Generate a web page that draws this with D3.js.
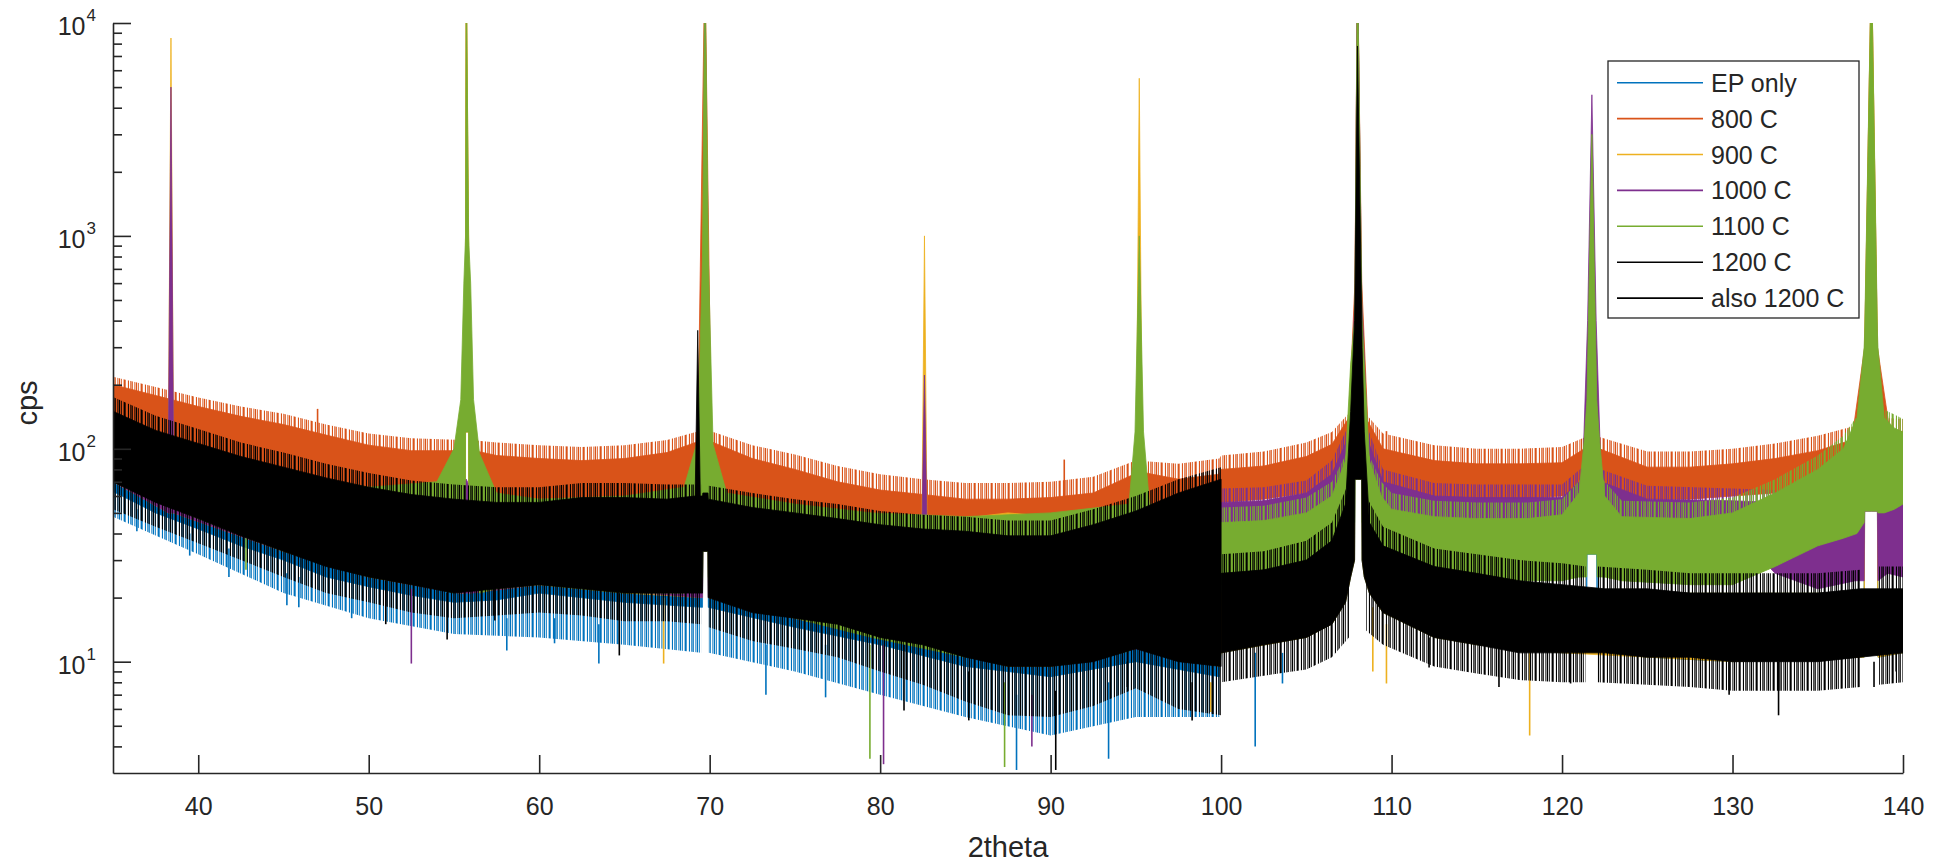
<!DOCTYPE html>
<html>
<head>
<meta charset="utf-8">
<script src="https://cdn.jsdelivr.net/npm/d3@7"></script>
<style>
  body { margin: 0; background: #fff; }
  svg { display: block; }
  text { font-family: "Liberation Sans", Arial, Helvetica, sans-serif; fill: #262626; }
</style>
</head>
<body>
<svg id="chart" width="1937" height="862"></svg>
<script>
// ---- axis settings ----
const xDomain = [35, 140];
const yDomain = [3, 1e4];
const xTicks = [40, 50, 60, 70, 80, 90, 100, 110, 120, 130, 140];
const yMajorTicks = [10, 100, 1000, 10000];
const yExponents = ["1", "2", "3", "4"];
const yMinorTicks = [4, 5, 6, 7, 8, 9, 20, 30, 40, 50, 60, 70, 80, 90,
  200, 300, 400, 500, 600, 700, 800, 900, 2000, 3000, 4000, 5000, 6000, 7000, 8000, 9000];

const seriesNames = ["EP only", "800 C", "900 C", "1000 C", "1100 C", "1200 C", "also 1200 C"];
const seriesColors = ["#0072BD", "#D95319", "#EDB120", "#7E2F8E", "#77AC30", "#000000", "#000000"];

// ---- dense part of each scan: [2theta, lower edge, upper edge / peak top] ----
const epOnly = [
  [35,63,120],[37.5,50,105],[40,42,95],[42.5,35,82],[45,30,72],[47.5,25,64],[50,22.5,60],[52.5,20.5,58],
  [55,19,56],[57.5,19.5,55],[60,21,55],[65,19,56],[69.58,18,55],[69.6,33,56],[69.9,33,56],[69.92,18,55],
  [75,14.5,48],[80,12,42],[85,9.5,40],[90,8.5,42],[95,10,46],[99.9,8.5,50],
  [100,11,21],[105,13,25],[106.5,15,30],[107.3,19,45],[107.6,25,100],[107.83,30,200],[107.85,72,300],
  [108,72,20000],[108.25,72,300],[108.27,30,200],[108.4,25,100],[108.7,21,40],[109.5,17,30],
  [112.5,13,22],[115,12,21],[120,11,21],[121.44,11,21],[121.46,32,60],[121.75,32,250],[122.04,32,60],[122.06,11,21],
  [125,10.5,21],[130,10,21],[137.72,10.5,21],[137.75,51,80],[138.15,51,500],[138.5,51,80],[138.53,10.5,21],[140,11,21]
];
const c800 = [
  [35,100,200],[37.5,90,178],[40,82,158],[42.5,75,142],[45,68,130],[47.5,62,116],[50,57,104],[52.5,54,98],
  [55.3,52,98],[55.55,60,250],[55.66,60,600],[55.68,120,650],[55.72,120,20000],[55.86,120,650],[55.88,60,600],[56.0,60,250],[56.2,52,98],
  [57.5,51,93],[60,50,90],[62.5,49,88],[65,49,90],[67.5,50,96],[69.3,52,108],[69.72,52,20000],[70.1,52,108],
  [72.5,47,90],[75,44,80],[77.5,40,70],[80,38,64],[82.5,36,61],[85,35,58],[87.5,35,58],[90,36,59],[92.5,38,62],
  [95.2,44,78],[97.5,42,72],[99.9,48,76],
  [100,56,80],[102.5,58,83],[105,62,92],[106.5,68,105],[107.5,80,140],[107.85,80,600],[108,80,20000],[108.25,80,600],
  [108.6,80,135],[109.5,65,100],[112.5,60,88],[115,58,85],[117.5,58,85],[120,60,86],
  [121.3,65,100],[121.75,65,1000],[122.2,65,100],[125,58,82],[127.5,58,82],[130,60,85],[132.5,62,90],
  [135,65,98],[137,70,110],[137.75,70,300],[138.15,70,20000],[138.5,70,300],[139.2,70,125],[140,70,120]
];
const c900 = [
  [35,70,120],[38.25,50,108],[38.4,50,8500],[38.55,50,108],[45,33,72],[50,25,62],[55.3,21,60],
  [55.66,21,60],[55.68,120,1000],[55.72,120,20000],[55.86,120,1000],[55.88,21,60],
  [60,23,58],[65,21,58],[69.58,20,58],[69.6,33,800],[69.72,33,20000],[69.9,33,800],[69.92,20,56],
  [75,16,50],[80,13,45],[82.45,12,45],[82.6,12,1000],[82.75,12,45],[87.5,9.5,50],[90,9.5,48],
  [95.0,11.5,50],[95.2,20,5500],[95.4,11.5,50],[99.9,9.5,45],
  [100,11,21],[105,13,25],[106.5,15,30],[107.3,19,45],[107.6,25,100],[107.83,30,200],[107.85,72,400],
  [108,72,20000],[108.25,72,400],[108.27,30,200],[108.4,25,100],[108.7,21,40],[109.5,17,30],
  [112.5,13,22],[115,12,21],[120,11,21],[125,10.5,21],[130,10,21],
  [137.72,10.5,21],[137.75,51,300],[138.15,51,20000],[138.5,51,300],[138.53,10.5,21],[140,11,21]
];
const c1000 = [
  [35,70,120],[38.25,50,108],[38.4,50,5000],[38.55,50,108],[45,33,75],[50,25,62],[52.5,23,60],
  [55.3,21,64],[55.72,21,72],[56.1,21,62],[60,23,56],
  [69.45,20,60],[69.58,20,300],[69.6,33,400],[69.72,33,20000],[69.9,33,400],[69.92,20,300],[70.05,20,58],
  [75,16,50],[80,13,43],[82.45,12,42],[82.6,30,222],[82.75,12,42],[90,9.5,42],[95,11.5,48],[99.9,9.5,55],
  [100,43,56],[102.5,44,57],[105,46,62],[106.5,50,76],[107.5,60,115],[107.85,72,500],[108,72,20000],[108.25,72,500],
  [108.6,60,110],[109.5,48,70],[112.5,44,60],[115,44,59],[120,44,59],
  [121.2,45,72],[121.5,45,400],[121.75,45,4600],[122.0,45,400],[122.3,45,70],
  [125,43,58],[130,42,57],[132.5,26,56],[135,22,56],[137.2,24,62],
  [137.72,24,90],[137.75,51,250],[138.15,51,5900],[138.5,51,250],[138.53,24,90],[139.1,26,60],[140,25,56]
];
const c1100 = [
  [35,70,125],[40,47,100],[45,33,78],[50,25,66],[54,22,70],[55.0,21,100],[55.4,30,170],[55.58,40,600],
  [55.66,40,900],[55.68,120,1000],[55.72,120,20000],[55.86,120,1000],[55.88,40,900],[55.98,40,600],[56.15,30,170],[56.5,21,95],
  [57.5,22,62],[60,23,58],[65,21,60],[68.5,21,66],[69.3,22,110],[69.58,25,800],[69.6,33,1200],[69.72,33,20000],
  [69.9,33,1200],[69.92,25,800],[70.2,20,105],[71,19,62],
  [75,16,55],[79.5,13,50],[85,10.5,48],[90,9.5,50],[94.6,11.2,55],[94.95,20,120],[95.2,20,1000],[95.45,20,120],[95.8,11.5,55],[99.9,9.5,52],
  [100,23,45],[102.5,24,46],[105,26,50],[106.5,30,60],[107.3,40,88],[107.6,45,250],[107.83,45,400],[107.85,72,500],
  [108,72,20000],[108.25,72,500],[108.27,45,400],[108.4,45,250],[108.7,40,88],[109.4,30,60],[110,27,52],
  [112.5,25,48],[115,24,47],[118,24,47],[120,24,49],[121.0,25,62],[121.3,25,110],[121.44,25,160],[121.46,32,170],
  [121.75,32,3000],[122.04,32,170],[122.06,25,160],[122.2,25,110],[122.5,25,60],[123.5,24,48],
  [127.5,23,47],[130,23,50],[132.5,28,62],[135,35,80],[136.5,38,100],[137.3,40,140],[137.72,45,300],[137.75,51,350],
  [138.15,51,20000],[138.5,51,350],[138.53,50,300],[138.9,50,140],[139.5,52,125],[140,55,120]
];
const c1200 = [
  [35,70,150],[37.5,56,122],[40,47,106],[42.5,39,92],[45,33,82],[47.5,28,73],[50,25,66],[52.5,23,61],
  [55,21,58],[57.5,22,56],[60,23,56],[62.5,22,59],[65,21,59],[67.5,21,58],
  [69.15,21,60],[69.3,21,360],[69.45,21,60],[69.58,21,60],[69.6,33,62],[69.9,33,62],[69.92,20,58],
  [72.5,17,53],[75,16,50],[77.5,15,47],[80,13,44],[82.5,12,42],[85,10.5,41],[87.5,9.5,39],[90,9.5,39],
  [92.5,10,44],[95,11.5,51],[97.5,10,62],[100,9.5,72]
];
const also1200 = [
  [100,11,26],[102.5,12,27],[105,13,30],[106.5,15,37],[107.3,19,55],[107.6,25,150],[107.83,30,400],[107.85,72,500],
  [108,72,7800],[108.25,72,400],[108.27,30,300],[108.4,25,120],[108.7,21,45],[109.5,17,35],
  [112.5,13,28],[115,12,26],[117.5,11,24],[120,11,23],[122.5,11,22],[125,10.5,22],[127.5,10.5,21],
  [130,10,21],[132.5,10,21],[135,10,21],[137.5,10.5,22],[140,11,22]
];

// ---- sparse noise envelope around the dense part: [2theta, lowest, highest]; null = no data drawn ----
const epFringe = [
  [35,48,120],[40,32,95],[45,21,72],[50,16,60],[55,13.5,56],[60,13,55],[65,12,56],[69.5,11,55],null,
  [69.95,11,55],[75,9,48],[80,7,42],[85,5.5,40],[90,4.5,42],[95,5.5,46],[99.9,5.5,50]
];
const c800Fringe = [
  [35,100,218],[37.5,90,195],[40,82,174],[42.5,75,158],[45,68,146],[47.5,62,130],[50,57,118],[52.5,54,112],
  [55.5,52,110],null,[55.95,52,110],[57.5,51,107],[60,50,104],[62.5,49,102],[65,49,104],[67.5,50,110],[69.5,52,122],null,
  [69.95,52,122],[72.5,47,104],[75,44,94],[77.5,40,83],[80,38,76],[82.5,36,72],[85,35,69],[87.5,35,69],[90,36,70],
  [92.5,38,74],[95,44,88],[97.5,42,85],[99.9,48,90],[100,56,93],[102.5,58,97],[105,62,107],[106.5,68,120],[107.6,80,150],null,
  [108.35,80,150],[109.5,65,118],[112.5,60,104],[115,58,100],[117.5,58,100],[120,60,102],[121.55,65,115],null,
  [121.95,65,115],[125,58,97],[127.5,58,97],[130,60,100],[132.5,62,106],[135,65,115],[137.5,70,130],null,
  [138.7,70,140],[140,70,138]
];
const c900Fringe = [];
const c1000Fringe = [
  [100,43,65],[102.5,44,66],[105,46,71],[106.5,50,88],[107.5,60,130],null,[108.6,60,125],[109.5,48,80],
  [112.5,44,69],[115,44,68],[120,44,68],[121.2,45,82],null,[122.3,45,80],[125,43,67],[130,42,65],
  [132.5,26,64],[135,22,64],[137.2,24,70],null,[139.1,26,68],[140,25,64]
];
const c1100Fringe = [
  [100,23,53],[102.5,24,54],[105,26,59],[106.5,30,70],[107.5,40,100],null,[108.5,40,100],[109.4,30,70],
  [110,27,62],[112.5,25,57],[115,24,56],[118,24,56],[120,24,58],[121.3,25,75],null,[122.2,25,75],
  [123.5,24,57],[127.5,23,56],[130,23,59],[132.5,28,72],[135,35,93],[136.5,38,115],[137.5,42,150],null,
  [138.7,50,155],[139.5,52,145],[140,55,138]
];
const c1200Fringe = [
  [35,52,175],[37.5,43,143],[40,36,124],[42.5,30,107],[45,25,96],[47.5,21,85],[50,19,77],[52.5,17,71],
  [55,16,68],[57.5,16.5,66],[60,17,66],[62.5,16.5,69],[65,15.5,69],[67.5,15.5,68],[69.5,15,68],null,
  [69.95,14.5,67],[72.5,12.5,62],[75,11.5,58],[77.5,10.5,55],[80,9,51],[82.5,7.8,49],[85,6.5,48],
  [87.5,5.6,46],[90,5.5,46],[92.5,6.2,52],[95,7.5,60],[97.5,6,72],[100,5.6,82]
];
const also1200Fringe = [
  [100,8,32],[102.5,8.6,33],[105,9.2,37],[106.5,10.5,45],[107.5,13,70],null,[108.5,14,60],[109.5,12,43],
  [112.5,9.5,34],[115,8.8,32],[117.5,8.2,30],[120,8,29],[121.4,8,28],null,[122.1,8,28],[125,7.8,27],
  [127.5,7.6,26],[130,7.3,26],[132.5,7.3,26],[135,7.3,26],[137.5,7.6,27],null,[138.6,7.8,28],[140,8,28]
];

// ---- isolated deep dips and tall single counts: [2theta, from, to] ----
const epSpikes = [
  [36.4,52,41],[39.5,40,31.5],[41.8,34,25],[45.2,26,18.4],[45.9,25,18],[49.0,20,16],[58.1,16,11.3],
  [60.9,16,12.2],[63.5,15,9.8],[73.3,12,7.0],[76.8,12,6.8],[88.0,7,3.1],[93.4,8,3.5],[102.0,11,4.0],[103.6,11,7.9]
];
const c800Spikes = [[47.0,110,154],[90.8,58,89],[109.7,98,121]];
const c900Spikes = [[67.3,20,9.8],[99.4,8,5.8],[108.9,18,9],[109.7,15,7.9],[118.1,11,4.5]];
const c1000Spikes = [[52.5,22,9.8],[80.2,12,3.3],[88.9,7,4]];
const c1100Spikes = [[42.8,38,27],[79.4,12,3.5],[87.3,8,3.2]];
const c1200Spikes = [
  [51.0,24,15],[54.6,21,12.7],[57.4,22,15.6],[64.7,21,10.7],[81.4,12,5.9],[85.2,9,5.3],[90.3,7.3,3.1],[94.5,10,7.6],[98.3,8,5.3]
];
const also1200Spikes = [
  [112.2,13,9.4],[116.3,12,7.6],[120.5,11,7.9],[129.8,10,7.0],[132.7,10,5.6],[138.3,10,7.6],[139.6,11,9.0]
];

const bands = [epOnly, c800, c900, c1000, c1100, c1200, also1200];
const fringes = [epFringe, c800Fringe, c900Fringe, c1000Fringe, c1100Fringe, c1200Fringe, also1200Fringe];
const spikes = [epSpikes, c800Spikes, c900Spikes, c1000Spikes, c1100Spikes, c1200Spikes, also1200Spikes];

// ---- layout ----
const plotLeft = 113, plotRight = 1903, plotTop = 23, plotBottom = 773;
const axisColor = "#262626";

const svg = d3.select("#chart");
const x = d3.scaleLinear().domain(xDomain).range([plotLeft, plotRight]);
const y = d3.scaleLog().domain(yDomain).range([plotBottom, plotTop]);

const defs = svg.append("defs");
defs.append("clipPath").attr("id", "plotClip")
  .append("rect").attr("x", plotLeft).attr("y", plotTop)
  .attr("width", plotRight - plotLeft).attr("height", plotBottom - plotTop);

// uneven vertical hairlines used to texture the sparse part of each scan
const hairX = [0, 2.1, 4.6, 6.2, 8.9, 11.3, 13.0, 15.4];
const hairW = [1.2, 0.8, 1.4, 0.7, 1.1, 1.3, 0.8, 1.0];
seriesColors.forEach((c, i) => {
  const p = defs.append("pattern")
    .attr("id", `hair${i}`)
    .attr("patternUnits", "userSpaceOnUse")
    .attr("width", 17).attr("height", 20);
  hairX.forEach((px, k) => {
    p.append("rect").attr("x", px).attr("y", 0).attr("width", hairW[k]).attr("height", 20).attr("fill", c);
  });
});

const plot = svg.append("g").attr("clip-path", "url(#plotClip)");
const band = d3.area()
  .defined(d => d !== null)
  .x(d => x(d[0]))
  .y0(d => y(d[1]))
  .y1(d => y(d[2]));

bands.forEach((rows, i) => {
  const g = plot.append("g").attr("class", "series");
  if (fringes[i].length) {
    g.append("path")
      .datum(fringes[i])
      .attr("d", band)
      .attr("fill", `url(#hair${i})`);
  }
  g.append("path")
    .datum(rows)
    .attr("d", band)
    .attr("fill", seriesColors[i])
    .attr("stroke", seriesColors[i])
    .attr("stroke-width", 0.8)
    .attr("stroke-linejoin", "round");
  g.selectAll("line")
    .data(spikes[i])
    .join("line")
    .attr("x1", d => x(d[0])).attr("x2", d => x(d[0]))
    .attr("y1", d => y(d[1])).attr("y2", d => y(d[2]))
    .attr("stroke", seriesColors[i])
    .attr("stroke-width", 1.6);
});

// ---- x axis ----
const xAxis = svg.append("g")
  .attr("transform", `translate(0,${plotBottom})`)
  .call(d3.axisBottom(x).tickValues(xTicks).tickFormat(d3.format("d"))
    .tickSizeInner(-18).tickSizeOuter(0).tickPadding(24));
xAxis.select(".domain").attr("stroke", axisColor).attr("stroke-width", 1.6);
xAxis.selectAll(".tick line").attr("stroke", axisColor).attr("stroke-width", 1.6);
xAxis.selectAll(".tick text").attr("font-size", 25).attr("fill", axisColor)
  .style("font-family", '"Liberation Sans", Arial, sans-serif');

// ---- y axis (log) ----
const yAxis = svg.append("g")
  .attr("transform", `translate(${plotLeft},0)`)
  .call(d3.axisLeft(y).tickValues(yMajorTicks).tickFormat("")
    .tickSizeInner(-18).tickSizeOuter(0));
yAxis.select(".domain").attr("stroke", axisColor).attr("stroke-width", 1.6);
yAxis.selectAll(".tick line").attr("stroke", axisColor).attr("stroke-width", 1.6);

const yMinor = svg.append("g")
  .attr("transform", `translate(${plotLeft},0)`)
  .call(d3.axisLeft(y).tickValues(yMinorTicks).tickFormat("")
    .tickSizeInner(-9).tickSizeOuter(0));
yMinor.select(".domain").remove();
yMinor.selectAll(".tick line").attr("stroke", axisColor).attr("stroke-width", 1.6);

const yLabels = svg.append("g");
yMajorTicks.forEach((v, i) => {
  const t = yLabels.append("text")
    .attr("x", 96)
    .attr("y", y(v) + 12)
    .attr("text-anchor", "end")
    .attr("font-size", 25);
  t.append("tspan").text("10");
  t.append("tspan").attr("font-size", 17).attr("dy", -14).attr("dx", 1).text(yExponents[i]);
});

// ---- axis titles ----
svg.append("text")
  .attr("x", (plotLeft + plotRight) / 2)
  .attr("y", 857)
  .attr("text-anchor", "middle")
  .attr("font-size", 29)
  .text("2theta");

svg.append("text")
  .attr("transform", "translate(37,403) rotate(-90)")
  .attr("text-anchor", "middle")
  .attr("font-size", 29)
  .text("cps");

// ---- legend ----
const legend = svg.append("g");
legend.append("rect")
  .attr("x", 1608).attr("y", 61).attr("width", 251).attr("height", 257)
  .attr("fill", "#fff").attr("stroke", axisColor).attr("stroke-width", 1.3);
seriesNames.forEach((name, i) => {
  const ly = 82.7 + i * 35.9;
  legend.append("line")
    .attr("x1", 1617).attr("x2", 1703).attr("y1", ly).attr("y2", ly)
    .attr("stroke", seriesColors[i]).attr("stroke-width", 1.6);
  legend.append("text")
    .attr("x", 1711).attr("y", ly + 9)
    .attr("font-size", 25)
    .text(name);
});
</script>
</body>
</html>
